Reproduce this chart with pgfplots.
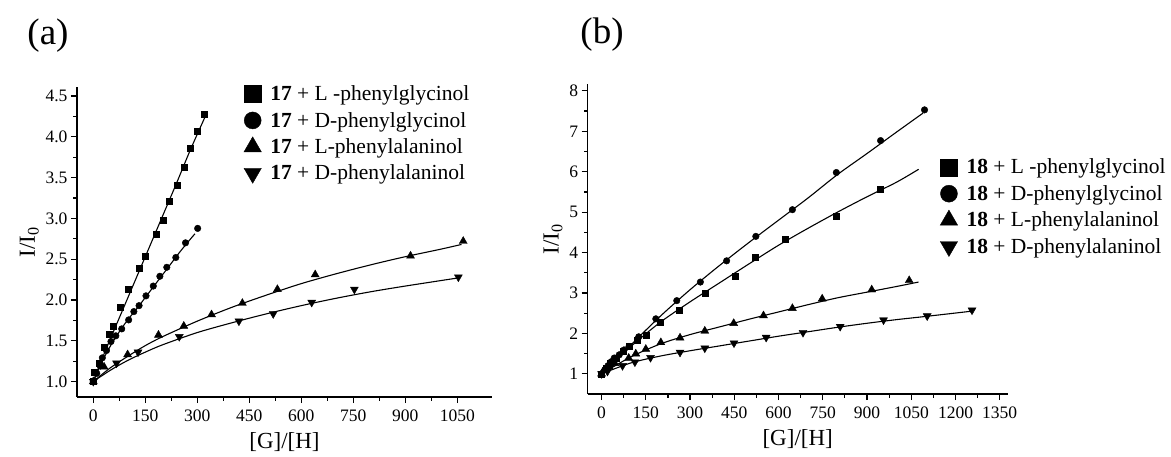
\documentclass[border=0pt]{standalone}
\usepackage{fontspec}
\setmainfont{Liberation Serif}
\usepackage{pgfplots}
\usepackage{pgfplotstable}
\pgfplotsset{compat=1.18}

% ---- panel (a): host 17 ----
\pgfplotstableread{
x y
0 1.00
3 1.11
16 1.23
31 1.42
45 1.58
56 1.68
77 1.91
102 2.13
133 2.39
151 2.54
180 2.80
201 2.98
220 3.21
241 3.41
261 3.63
280 3.86
301 4.07
320 4.28
}\aLpg
\pgfplotstableread{
x y
0 1.00
20 1.22
40 1.43
80 1.83
120 2.23
160 2.63
200 3.03
240 3.43
280 3.84
322 4.24
}\aLpgfit
\pgfplotstableread{
x y
0 1.00
10 1.10
20 1.19
26 1.29
38 1.38
51 1.49
65 1.56
82 1.645
102 1.755
117 1.857
132 1.93
152 2.05
173 2.17
192 2.29
212 2.40
238 2.52
266 2.70
301 2.877
}\aDpg
\pgfplotstableread{
x y
0 1.00
25 1.24
50 1.44
75 1.61
100 1.76
125 1.89
150 2.03
175 2.17
200 2.31
225 2.45
250 2.59
275 2.72
293 2.81
}\aDpgfit
\pgfplotstableread{
x y
0 1.00
31 1.18
99 1.33
188 1.57
261 1.68
341 1.82
430 1.96
531 2.13
640 2.31
915 2.54
1067 2.72
}\aLpa
\pgfplotstableread{
x y
0 1.00
50 1.17
100 1.31
150 1.44
200 1.55
300 1.74
400 1.91
500 2.06
600 2.20
700 2.32
800 2.43
900 2.53
1000 2.62
1062 2.68
}\aLpafit
\pgfplotstableread{
x y
0 1.00
67 1.225
129 1.36
248 1.55
420 1.74
519 1.83
630 1.97
753 2.13
1053 2.28
}\aDpa
\pgfplotstableread{
x y
0 1.00
50 1.14
100 1.26
150 1.36
200 1.45
300 1.60
400 1.72
500 1.83
600 1.93
700 2.02
800 2.10
900 2.17
1053 2.27
}\aDpafit

% ---- panel (b): host 18 ----
\pgfplotstableread{
x y
0 1.00
15 1.15
30 1.27
50 1.38
75 1.55
92 1.69
120 1.83
150 1.965
198 2.28
262 2.58
350 3.00
454 3.41
521 3.88
621 4.32
794 4.89
943 5.56
}\bLpg
\pgfplotstableread{
x y
0 1.00
100 1.68
200 2.28
300 2.78
400 3.25
500 3.72
600 4.18
700 4.60
800 5.00
900 5.38
1000 5.74
1075 6.06
}\bLpgfit
\pgfplotstableread{
x y
0 1.00
11 1.10
22 1.20
33 1.30
43 1.39
60 1.47
76 1.59
93 1.675
126 1.915
184 2.36
255 2.81
335 3.27
424 3.795
523 4.40
647 5.06
796 5.98
946 6.77
1095 7.53
}\bDpg
\pgfplotstableread{
x y
0 1.00
100 1.72
200 2.43
300 3.08
400 3.68
500 4.25
600 4.80
700 5.35
800 5.93
900 6.45
1000 6.98
1090 7.45
}\bDpgfit
\pgfplotstableread{
x y
0 1.00
11 1.10
25 1.18
45 1.26
92 1.39
116 1.495
150 1.61
201 1.775
266 1.89
350 2.06
448 2.25
549 2.44
647 2.62
748 2.855
916 3.08
1043 3.31
}\bLpa
\pgfplotstableread{
x y
0 1.00
100 1.42
200 1.74
300 1.97
400 2.16
500 2.35
600 2.53
700 2.71
800 2.88
900 3.02
1000 3.16
1075 3.27
}\bLpafit
\pgfplotstableread{
x y
0 1.00
20 1.06
71 1.20
113 1.29
166 1.40
266 1.53
350 1.635
449 1.76
558 1.90
683 2.02
809 2.17
956 2.33
1104 2.43
1256 2.575
}\bDpa
\pgfplotstableread{
x y
0 1.00
100 1.27
200 1.44
300 1.57
400 1.69
500 1.81
600 1.93
700 2.04
800 2.15
900 2.25
1000 2.34
1100 2.42
1256 2.55
}\bDpafit

\pgfplotsset{
  panel/.style={
    scale only axis,
    axis x line*=bottom, axis y line*=left,
    axis line style={line width=1.2pt},
    tick align=outside,
    tick style={line width=1.2pt, black},
    major tick length=6pt, minor tick length=3.5pt,
    minor tick num=1,
    /pgf/number format/assume math mode=true,
    /pgf/number format/set thousands separator={},
    tick label style={font=\fontsize{17.5}{20}\selectfont},
    xticklabel style={yshift=-3pt},
    label style={font=\fontsize{23}{26}\selectfont},
    xlabel style={yshift=-4pt},
    xlabel={[G]/[H]}, ylabel={I/I\textsubscript{0}},
    legend cell align=left,
    legend style={draw=none, fill=none, anchor=north west,
      font=\fontsize{21.5}{24}\selectfont, row sep=6pt, column sep=7pt, inner sep=0pt},
  },
  fit/.style={black, line width=1.1pt, smooth, no markers, forget plot},
  dsq/.style={only marks, black, mark=square*, mark size=3pt,
    legend image code/.code={\draw[black, mark=square*, mark size=8.5pt] plot coordinates {(0.3cm,0cm)};}},
  dci/.style={only marks, black, mark=*, mark size=3.3pt,
    legend image code/.code={\draw[black, mark=*, mark size=8.5pt] plot coordinates {(0.3cm,0cm)};}},
  dtu/.style={only marks, black, mark=triangle*, mark size=4.6pt,
    legend image code/.code={\draw[black, mark=triangle*, mark size=10pt] plot coordinates {(0.3cm,0cm)};}},
  dtd/.style={only marks, black, mark=triangle*, mark size=4.6pt, mark options={rotate=180},
    legend image code/.code={\draw[black, mark=triangle*, mark size=10pt, mark options={rotate=180}] plot coordinates {(0.3cm,0cm)};}},
}

\begin{document}
\begin{tikzpicture}
\useasboundingbox (0,0) rectangle (1171pt,456pt);
\node[font=\fontsize{37}{40}\selectfont] at (48pt,420pt) {(a)};
\node[font=\fontsize{37}{40}\selectfont] at (602pt,421pt) {(b)};

\begin{axis}[panel,
  at={(77pt,59pt)}, anchor=south west,
  width=415pt, height=310pt,
  xmin=-47, xmax=1150, ymin=0.81, ymax=4.61,
  xtick={0,150,...,1050},
  ytick={1,1.5,...,4.5},
  yticklabel style={/pgf/number format/.cd, fixed, fixed zerofill, precision=1},
  legend style={at={(rel axis cs:0.402,1.011)}},
]
\addplot[dsq] table {\aLpg};
\addlegendentry{\textbf{17} + L -phenylglycinol}
\addplot[dci] table {\aDpg};
\addlegendentry{\textbf{17} + D-phenylglycinol}
\addplot[dtu] table {\aLpa};
\addlegendentry{\textbf{17} + L-phenylalaninol}
\addplot[dtd] table {\aDpa};
\addlegendentry{\textbf{17} + D-phenylalaninol}
\addplot[fit] table {\aLpgfit};
\addplot[fit] table {\aDpgfit};
\addplot[fit] table {\aLpafit};
\addplot[fit] table {\aDpafit};
\end{axis}

\begin{axis}[panel,
  at={(587.7pt,62pt)}, anchor=south west,
  width=420pt, height=310pt,
  xmin=-47, xmax=1377, ymin=0.5, ymax=8.17,
  xtick={0,150,...,1350},
  ytick={1,2,...,8},
  legend style={at={(rel axis cs:0.839,0.765)}},
]
\addplot[dsq] table {\bLpg};
\addlegendentry{\textbf{18} + L -phenylglycinol}
\addplot[dci] table {\bDpg};
\addlegendentry{\textbf{18} + D-phenylglycinol}
\addplot[dtu] table {\bLpa};
\addlegendentry{\textbf{18} + L-phenylalaninol}
\addplot[dtd] table {\bDpa};
\addlegendentry{\textbf{18} + D-phenylalaninol}
\addplot[fit] table {\bLpgfit};
\addplot[fit] table {\bDpgfit};
\addplot[fit] table {\bLpafit};
\addplot[fit] table {\bDpafit};
\end{axis}
\end{tikzpicture}
\end{document}
